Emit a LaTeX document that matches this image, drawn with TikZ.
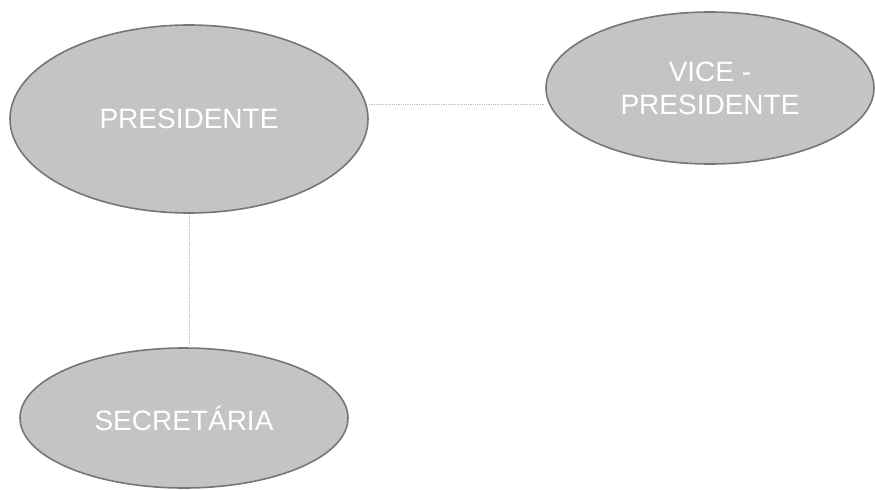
\documentclass[tikz,border=0pt]{standalone}
\usepackage{fontspec}
\setmainfont{Liberation Sans}
\usetikzlibrary{shapes.geometric}
\definecolor{ovalfill}{RGB}{196,196,196}
\definecolor{ovaledge}{RGB}{118,118,118}
\definecolor{linkgray}{RGB}{190,190,190}
\tikzset{
  oval/.style={ellipse, fill=ovalfill, draw=ovaledge, line width=1.6pt, inner sep=0pt,
    text=white, font=\fontsize{28}{33}\selectfont, align=center},
  link/.style={draw=linkgray, line width=0.8pt, densely dotted}
}
\begin{document}
\begin{tikzpicture}[x=1pt,y=-1pt]
\useasboundingbox (0,0) rectangle (875,490);
\node[oval, minimum width=358pt, minimum height=188pt] (P) at (189,119) {PRESIDENTE};
\node[oval, minimum width=328pt, minimum height=152pt] (V) at (710,88) {VICE -\\PRESIDENTE};
\node[oval, minimum width=328pt, minimum height=140pt] (S) at (184,418) {SECRETÁRIA};
\coordinate (pa) at ([yshift=15pt]P.east);
\draw[link] (pa) -- (pa -| V.west);
\draw[link] (P.south) -- (P.south |- S.north);
\end{tikzpicture}
\end{document}
